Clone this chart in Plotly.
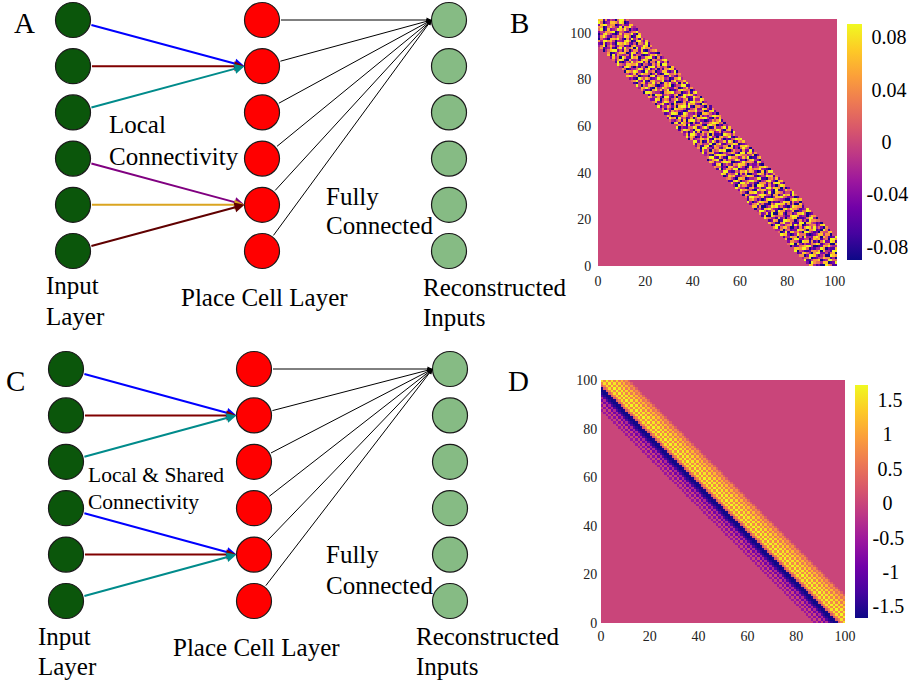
import plotly.graph_objects as go

SERIF = "Liberation Serif, Times New Roman, serif"

# ---------------- network diagrams (panels A and C) ----------------
layer_colors = ["#0b560b", "#ff0000", "#86bb84"]
n_units = 6

# (input unit, place unit, edge colour)
edges_A = [(0, 1, "#0000ff"), (1, 1, "#800000"), (2, 1, "#008b8b"),
           (3, 4, "#800080"), (4, 4, "#daa520"), (5, 4, "#600000")]
edges_C = [(0, 1, "#0000ff"), (1, 1, "#800000"), (2, 1, "#008b8b"),
           (3, 4, "#0000ff"), (4, 4, "#800000"), (5, 4, "#008b8b")]

# ---------------- panel B: learned local weights ----------------
# first column index of the non-zero band, one entry per row (bottom row first)
band_start_B = [89, 88, 87, 86, 85, 84, 83, 82, 81, 80,
                80, 79, 78, 77, 76, 75, 74, 73, 72, 71,
                70, 69, 68, 67, 66, 65, 64, 63, 63, 62,
                61, 60, 59, 58, 57, 56, 55, 54, 53, 52,
                51, 50, 49, 48, 47, 46, 46, 45, 44, 43,
                42, 41, 40, 39, 38, 37, 36, 35, 34, 33,
                32, 31, 30, 29, 29, 28, 27, 26, 25, 24,
                23, 22, 21, 20, 19, 18, 17, 16, 15, 14,
                13, 12, 12, 11, 10, 9, 8, 7, 6, 5,
                4, 3, 2, 1, 0, -1, -2, -3, -4, -5,
                -6, -6, -7, -8, -9, -10]
# weight levels inside the band (0 = -0.088 ... 4 = 0 ... 8 = +0.088)
band_rows_B = [
    "77312008651134878026655", "20865537701286640153378", "81146670238855102774361",
    "35580124476613087520048", "66028873135008764411287", "12775306882241570036854",
    "80431126657073318862201", "47768850213386021175530", "03125678840012768433817",
    "58807314225687135600726", "26643087716130582287143", "71058822440376714508862",
    "14376605183327860751128", "87720138556101247736604", "50281774630885312064477",
    "33604512287740668120851", "68157740031626874835206", "02883256718470135562378",
    "75410683362118807743120", "41276018875503624186655", "86533172404687011258830",
    "17008645531278862330476", "62371800672045137784012", "38852367186613470025587",
    "04417785320078586641238", "77160024878352103876614", "25683511064887726150073",
    "83025876603121487716340", "16741302788654320058867", "51886647121037785423301",
    "07532258874406613867185", "64107783350281076524428", "28674410867735208113756",
    "85331067236128847760502", "30846621508873162305874", "73208857341066625178831",
    "11785034688520347842067", "56420776013348811056372", "02767213558761024387715",
    "87154480627003378615236", "43882115376847620170488", "18036648802215756683210",
    "65512077438630182347786", "21780353165877403225104", "76243688700124856651873",
    "03678106253487120478320", "58821741086652374801167", "34106887732018865534702",
    "82567220143576208817736", "17350645878003644162281", "60884316621587713058540",
    "25117802754366081327786", "71563448006821356870123", "48826017385144728602657",
    "06234775810867302145878", "83750162268330674581025", "37188524637061120876364",
    "62403816075587236143308", "15876307842206558720671", "80321558713684017336827",
    "44657082366510786602143", "07818624051273346887450", "53246170788352201364681",
    "28670835126047788410527", "75011367534870623258876", "12488701863325107764230",
    "68826453201766834501782", "36153087664014572287316", "81437526078838106643051",
    "04682140735571867320864", "57215873380016248856713", "22870465146832570173387",
    "76336208821504683128650", "41508772453267018687324", "08874331067783450236178",
    "63120684725801137865502", "37685107348642265014736", "84053776102376802448811",
    "10467254836017583370628", "56832810674458120683457", "23108647512386734016683",
    "78746023307815661274215", "42371586640372018855746", "07658731084460237721380",
    "64013358726813504166872", "31786204153078826435107", "85437766820541163708834",
    "18102538467826055183261", "52687107334168720654478", "27350862186703378820613",
    "70826433518254101376845", "46013577602871368842210", "03578824175036627103567",
    "61236106828457082786634", "35804741365120573348706", "82171352087686214065381",
    "14638867403327850178427", "57205320776841062835163", "23871685214365387401784",
    "78446037853102736658207", "41087724366780154213568", "06653158017234875840321",
    "63218846601575328176843", "30785203278846601352277", "87342671185023776487014",
    "12806485637716243058835",
]
level_step_B = 0.022
cbar_ticks_B = [0.08, 0.04, 0, -0.04, -0.08]
cbar_text_B = ["0.08", "0.04", "0", "-0.04", "-0.08"]

# ---------------- panel D: shared convolution-like weights ----------------
# weight as a function of (column + row); first entry belongs to index sum 87
kernel_D = [-0.55, 0.0, -0.7, 0.0, -0.9, -0.3, -1.2, -1.5, -1.7, -1.6,
            0.3, 0.7, 1.55, 0.75, 1.72, 0.8, 1.6, 0.7, 1.45, 0.6,
            1.2, 0.5, 0.8, 0.3]
KERNEL_START = 87
cbar_ticks_D = [1.5, 1, 0.5, 0, -0.5, -1, -1.5]
cbar_text_D = ["1.5", "1", "0.5", "0", "-0.5", "-1", "-1.5"]

axis_ticks = [0, 20, 40, 60, 80, 100]

# ---------------- build matrices ----------------
NB_ROWS, NB_COLS = 106, 101
Z_B = [[0.0] * NB_COLS for _ in range(NB_ROWS)]
for y, (start, row) in enumerate(zip(band_start_B, band_rows_B)):
    for k, ch in enumerate(row):
        x = start + k
        if 0 <= x < NB_COLS:
            Z_B[y][x] = (int(ch) - 4) * level_step_B

ND = 100
Z_D = [[0.0] * ND for _ in range(ND)]
for y in range(ND):
    for x in range(ND):
        k = x + y - KERNEL_START
        if 0 <= k < len(kernel_D):
            Z_D[y][x] = kernel_D[k]

# centre colour-bar labels by padding with no-break spaces (Times advance widths)
GLYPH_W = {c: 0.5 for c in "0123456789"}
GLYPH_W.update({".": 0.25, "-": 0.333})


def centred(labels):
    widths = [sum(GLYPH_W[c] for c in s) for s in labels]
    wmax = max(widths)
    return ["\u00a0" * int(round((wmax - w) / 2 / 0.25)) + s
            for s, w in zip(labels, widths)]


W, H = 913, 681
fig = go.Figure()

fig.add_trace(go.Heatmap(
    z=Z_B, x0=0.5, dx=1, y0=0.5, dy=1, colorscale="Plasma",
    zmin=-0.09, zmax=0.09, xaxis="x", yaxis="y", hoverinfo="skip",
    colorbar=dict(x=847 / W, xanchor="left", xpad=0, ypad=0,
                  y=1 - 142 / H, yanchor="middle", len=236 / H, lenmode="fraction",
                  thickness=15, outlinewidth=0, ticks="", ticklen=0,
                  tickvals=cbar_ticks_B, ticktext=centred(cbar_text_B),
                  tickfont=dict(family=SERIF, size=20, color="black")),
))
fig.add_trace(go.Heatmap(
    z=Z_D, x0=0.5, dx=1, y0=0.5, dy=1, colorscale="Plasma",
    zmin=-1.67, zmax=1.72, xaxis="x2", yaxis="y2", hoverinfo="skip",
    colorbar=dict(x=855 / W, xanchor="left", xpad=0, ypad=0,
                  y=1 - 501.5 / H, yanchor="middle", len=233 / H, lenmode="fraction",
                  thickness=13, outlinewidth=0, ticks="", ticklen=0,
                  tickvals=cbar_ticks_D, ticktext=centred(cbar_text_D),
                  tickfont=dict(family=SERIF, size=20, color="black")),
))

# ---------------- diagrams ----------------
R = 17.5
panels = [
    dict(col_x=[73, 262, 449], y0=20, dy=46.2, edges=edges_A),
    dict(col_x=[66, 254, 450], y0=369, dy=46.4, edges=edges_C),
]
annotations = []
for p in panels:
    rows = [p["y0"] + i * p["dy"] for i in range(n_units)]
    for layer, (cx, col) in enumerate(zip(p["col_x"], layer_colors)):
        fig.add_trace(go.Scatter(
            x=[cx] * n_units, y=rows, mode="markers", xaxis="x3", yaxis="y3",
            hoverinfo="skip", showlegend=False,
            marker=dict(size=35, color=col, line=dict(width=1.2, color="#1a1a1a")),
        ))
    xi, xp, xr = p["col_x"]
    for i, j, c in p["edges"]:
        annotations.append(dict(
            x=xp - R, y=rows[j], ax=xi, ay=rows[i], xref="x3", yref="y3",
            axref="x3", ayref="y3", showarrow=True, text="", arrowhead=2,
            arrowsize=1, arrowwidth=2, arrowcolor=c, startstandoff=R, standoff=0))
    for j in range(n_units):
        annotations.append(dict(
            x=xr - R, y=rows[0], ax=xp, ay=rows[j], xref="x3", yref="y3",
            axref="x3", ayref="y3", showarrow=True, text="", arrowhead=2,
            arrowsize=1, arrowwidth=1, arrowcolor="black", startstandoff=R, standoff=0))

# text labels: (text, x, y, size)
labels = [
    ("A", 13, 23, 29), ("B", 509, 23, 29), ("C", 5, 381, 29), ("D", 507, 381, 29),
    ("Local", 108, 124, 25), ("Connectivity", 108, 156, 25),
    ("Input", 45, 285, 25), ("Layer", 45, 316, 25),
    ("Place Cell Layer", 180, 297, 25),
    ("Fully", 325, 196, 25), ("Connected", 325, 225, 25),
    ("Reconstructed", 422, 287, 25), ("Inputs", 422, 317, 25),
    ("Local & Shared", 87, 475, 21.5), ("Connectivity", 87, 502, 21.5),
    ("Input", 37, 636, 25), ("Layer", 37, 666, 25),
    ("Place Cell Layer", 172, 647, 25),
    ("Fully", 325, 554, 25), ("Connected", 325, 585, 25),
    ("Reconstructed", 415, 636, 25), ("Inputs", 415, 666, 25),
]
for t, x, y, s in labels:
    annotations.append(dict(
        text=t, x=x, y=y, xref="x3", yref="y3", showarrow=False,
        xanchor="left", yanchor="middle", borderpad=0,
        font=dict(family=SERIF, size=s, color="black")))

tickfont = dict(family=SERIF, size=14, color="#222222")
common = dict(showgrid=False, zeroline=False, showline=False, tickvals=axis_ticks,
              tickfont=tickfont, tickcolor="rgba(0,0,0,0)", ticks="outside",
              automargin=False)

fig.update_layout(
    width=W, height=H, margin=dict(l=0, r=0, t=0, b=0, pad=0, autoexpand=False),
    paper_bgcolor="white", plot_bgcolor="rgba(0,0,0,0)", showlegend=False,
    xaxis=dict(domain=[598 / W, 837 / W], anchor="y", range=[0, NB_COLS],
               ticklen=2, **common),
    yaxis=dict(domain=[1 - 266 / H, 1 - 19 / H], anchor="x", range=[0, NB_ROWS],
               ticklen=3, **common),
    xaxis2=dict(domain=[601 / W, 845 / W], anchor="y2", range=[0, ND],
                ticklen=0, **common),
    yaxis2=dict(domain=[1 - 623 / H, 1 - 380 / H], anchor="x2", range=[0, ND],
                ticklen=0, **common),
    xaxis3=dict(domain=[0, 1], anchor="y3", range=[0, W], visible=False,
                fixedrange=True, automargin=False),
    yaxis3=dict(domain=[0, 1], anchor="x3", range=[H, 0], visible=False,
                fixedrange=True, automargin=False),
    annotations=annotations,
)

fig.write_html("out.html")
